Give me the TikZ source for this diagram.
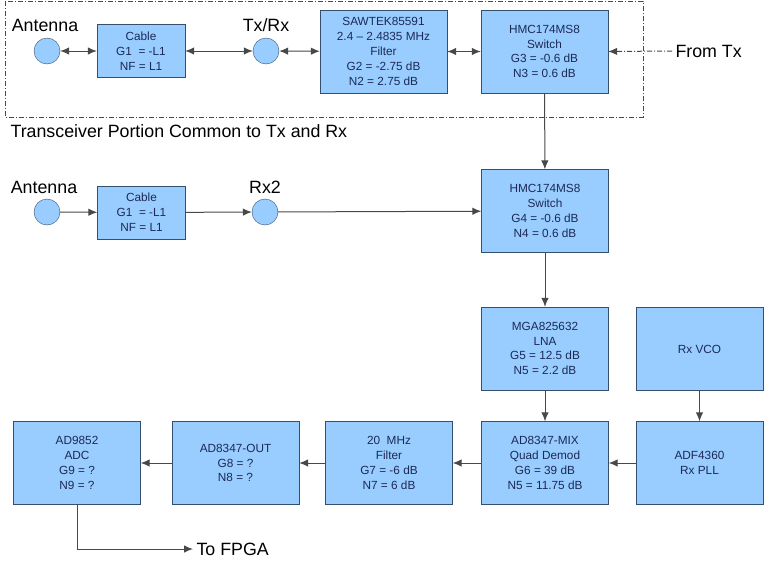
\documentclass[tikz,border=0pt]{standalone}
\usepackage{fontspec}
\setmainfont{Liberation Sans}
\usetikzlibrary{arrows.meta}
\definecolor{boxfill}{HTML}{99CCFF}
\definecolor{boxline}{HTML}{34506E}
\definecolor{boxtext}{HTML}{1C2A55}
\definecolor{wire}{HTML}{484848}

\begin{document}
\begin{tikzpicture}[x=1pt,y=-1pt,
    block/.style={draw=boxline,fill=boxfill,text=boxtext,align=center,minimum width=127pt,minimum height=83pt,inner sep=0pt,font=\fontsize{11.8}{14.8}\selectfont},
    cable/.style={block,minimum width=88pt,minimum height=53pt},
    ant/.style={circle,draw=boxline,fill=boxfill,minimum size=26pt,inner sep=0pt},
    big/.style={font=\fontsize{17.8}{21}\selectfont},
    link/.style={draw=wire,line width=1pt,-{Latex[length=9pt,width=7.5pt]}},
    both/.style={link,{Latex[length=9pt,width=7.5pt]}-{Latex[length=9pt,width=7.5pt]}},
    txdash/.style={link,dash pattern=on 5pt off 2pt on 1pt off 2pt}]
    \useasboundingbox (0,0) rectangle (764,565);

    \draw[wire,line width=0.8pt,dash pattern=on 5pt off 2pt on 1pt off 2pt] (5,1) rectangle (643,117);
    \node[big,anchor=west] (common) at (7,131) {Transceiver Portion Common to Tx and Rx};

    \node[ant] (ant1) at (47,51) {};
    \node[big] (ant1l) at (45,25) {Antenna};
    \node[cable] (cab1) at (141,51) {Cable\\G1\ \ = -L1\\NF = L1};
    \node[ant] (trx) at (266,51) {};
    \node[big] (trxl) at (266,25) {Tx/Rx};
    \node[block] (saw) at (383.5,51.5) {SAWTEK85591\\2.4 -- 2.4835 MHz\\Filter\\G2 = -2.75 dB\\N2 = 2.75 dB};
    \node[block] (sw1) at (544.5,51.5) {HMC174MS8\\Switch\\G3 = -0.6 dB\\N3 = 0.6 dB};
    \node[big,anchor=west] (fromtx) at (672,51) {From Tx};
    \draw[both] (ant1) -- (cab1);
    \draw[both] (cab1) -- (trx);
    \draw[both] (trx) -- (saw);
    \draw[both] (saw) -- (sw1);
    \draw[txdash] (fromtx.west) -- (sw1.east);

    \node[ant] (ant2) at (47,212) {};
    \node[big] (ant2l) at (44,187) {Antenna};
    \node[cable] (cab2) at (141.5,212.5) {Cable\\G1\ \ = -L1\\NF = L1};
    \node[ant] (rx2) at (265,212) {};
    \node[big] (rx2l) at (265,187) {Rx2};
    \node[block] (sw2) at (545,211) {HMC174MS8\\Switch\\G4 = -0.6 dB\\N4 = 0.6 dB};
    \draw[link] (ant2) -- (cab2);
    \draw[link] (cab2) -- (rx2);
    \draw[link] (rx2) -- (sw2);
    \draw[link] (sw1) -- (sw2);

    \node[block] (lna) at (545,348.5) {MGA825632\\LNA\\G5 = 12.5 dB\\N5 = 2.2 dB};
    \node[block] (vco) at (699.5,349) {Rx VCO};
    \draw[link] (sw2) -- (lna);

    \node[block] (adc) at (77,463) {AD9852\\ADC\\G9 = ?\\N9 = ?};
    \node[block] (out) at (235.5,463) {AD8347-OUT\\G8 = ?\\N8 = ?};
    \node[block] (filt) at (389,463) {20\ \ MHz\\Filter\\G7 = -6 dB\\N7 = 6 dB};
    \node[block] (mix) at (545,463) {AD8347-MIX\\Quad Demod\\G6 = 39 dB\\N5 = 11.75 dB};
    \node[block] (pll) at (699.5,463) {ADF4360\\Rx PLL};
    \node[big,anchor=west] (fpga) at (193,549) {To FPGA};
    \draw[link] (lna) -- (mix);
    \draw[link] (vco) -- (pll);
    \draw[link] (pll) -- (mix);
    \draw[link] (mix) -- (filt);
    \draw[link] (filt) -- (out);
    \draw[link] (out) -- (adc);
    \draw[link] (adc.south) |- (fpga.west);

\end{tikzpicture}
\end{document}
